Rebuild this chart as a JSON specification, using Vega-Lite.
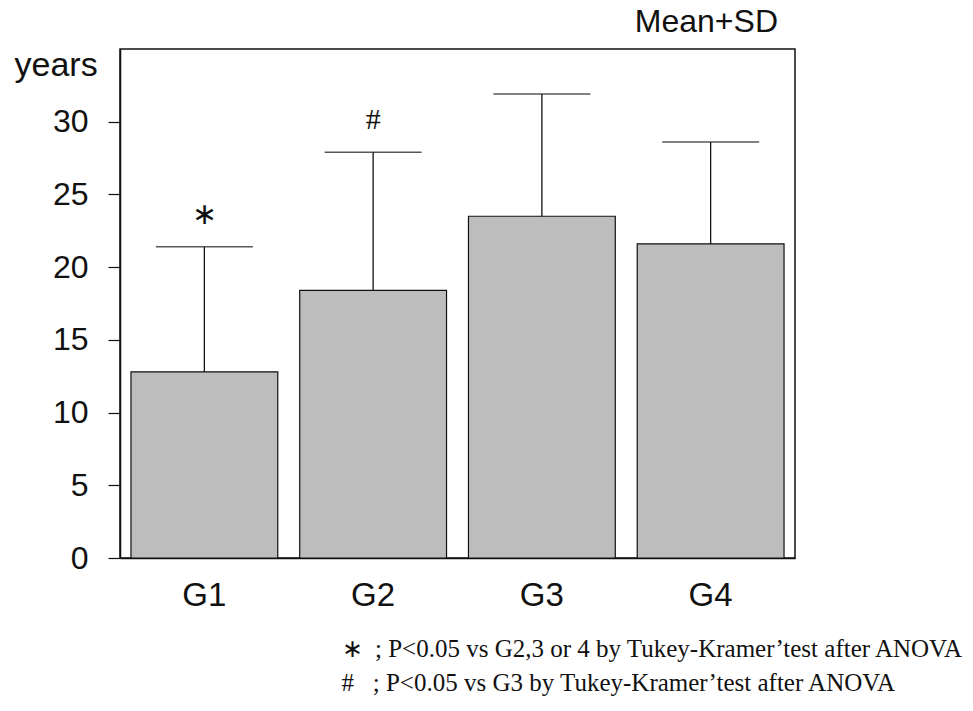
{
  "$schema": "https://vega.github.io/schema/vega-lite/v6.json",
  "autosize": "none",
  "width": 675,
  "height": 509,
  "padding": {"left": 120, "top": 49, "right": 178, "bottom": 153},
  "background": "white",
  "title": {
    "text": "Mean+SD",
    "anchor": "end",
    "frame": "group",
    "font": "Liberation Sans",
    "fontSize": 32,
    "fontWeight": "normal",
    "color": "#111",
    "offset": 9,
    "dx": -17
  },
  "config": {
    "view": {"stroke": "#111", "strokeWidth": 1.5},
    "axis": {
      "domainColor": "#111",
      "tickColor": "#111",
      "labelColor": "#111",
      "titleColor": "#111",
      "grid": false
    }
  },
  "data": {
    "values": [
      {"group": "G1", "mean": 12.8, "upper": 21.4, "sig": "∗"},
      {"group": "G2", "mean": 18.4, "upper": 27.9, "sig": "#"},
      {"group": "G3", "mean": 23.5, "upper": 31.9, "sig": ""},
      {"group": "G4", "mean": 21.6, "upper": 28.6, "sig": ""}
    ]
  },
  "layer": [
    {
      "mark": {"type": "bar", "fill": "#bdbdbd", "stroke": "#111", "strokeWidth": 1.2},
      "encoding": {
        "x": {
          "field": "group",
          "type": "nominal",
          "scale": {"paddingInner": 0.13, "paddingOuter": 0.065},
          "axis": {
            "labelAngle": 0,
            "labelFont": "Liberation Sans",
            "labelFontSize": 33,
            "labelPadding": 21,
            "ticks": false,
            "domainWidth": 1.5,
            "title": [
              "∗\u00a0\u00a0; P<0.05 vs G2,3 or 4 by Tukey-Kramer’test after ANOVA",
              "#\u00a0\u00a0\u00a0; P<0.05 vs G3 by Tukey-Kramer’test after ANOVA"
            ],
            "titleFont": "Liberation Serif",
            "titleFontSize": 25,
            "titleFontWeight": "normal",
            "titleAlign": "left",
            "titleBaseline": "top",
            "titleLineHeight": 34,
            "titleX": 221,
            "titleY": 78
          }
        },
        "y": {
          "field": "mean",
          "type": "quantitative",
          "scale": {"domain": [0, 35], "nice": false},
          "axis": {
            "values": [0, 2.5, 5, 7.5, 10, 12.5, 15, 17.5, 20, 22.5, 25, 27.5, 30, 32.5],
            "labelExpr": "datum.value % 5 === 0 ? datum.label : ''",
            "labelFont": "Liberation Sans",
            "labelFontSize": 32,
            "labelPadding": 20,
            "tickSize": {"condition": {"test": "datum.value % 5 === 0", "value": 12}, "value": 6},
            "tickWidth": 1.2,
            "domainWidth": 1.5,
            "title": "years",
            "titleFont": "Liberation Sans",
            "titleFontSize": 34,
            "titleFontWeight": "normal",
            "titleAngle": 0,
            "titleAlign": "left",
            "titleBaseline": "alphabetic",
            "titleX": -106,
            "titleY": 26
          }
        }
      }
    },
    {
      "mark": {"type": "rule", "color": "#111", "strokeWidth": 1.3},
      "encoding": {
        "x": {"field": "group", "type": "nominal"},
        "y": {"field": "mean", "type": "quantitative"},
        "y2": {"field": "upper"}
      }
    },
    {
      "mark": {"type": "tick", "color": "#111", "size": 97, "thickness": 1.5},
      "encoding": {
        "x": {"field": "group", "type": "nominal"},
        "y": {"field": "upper", "type": "quantitative"}
      }
    },
    {
      "transform": [{"filter": "datum.sig !== ''"}],
      "mark": {
        "type": "text",
        "font": "Liberation Serif",
        "fontSize": 30,
        "color": "#111",
        "baseline": "middle",
        "dy": -32
      },
      "encoding": {
        "x": {"field": "group", "type": "nominal"},
        "y": {"field": "upper", "type": "quantitative"},
        "text": {"field": "sig"}
      }
    }
  ]
}
